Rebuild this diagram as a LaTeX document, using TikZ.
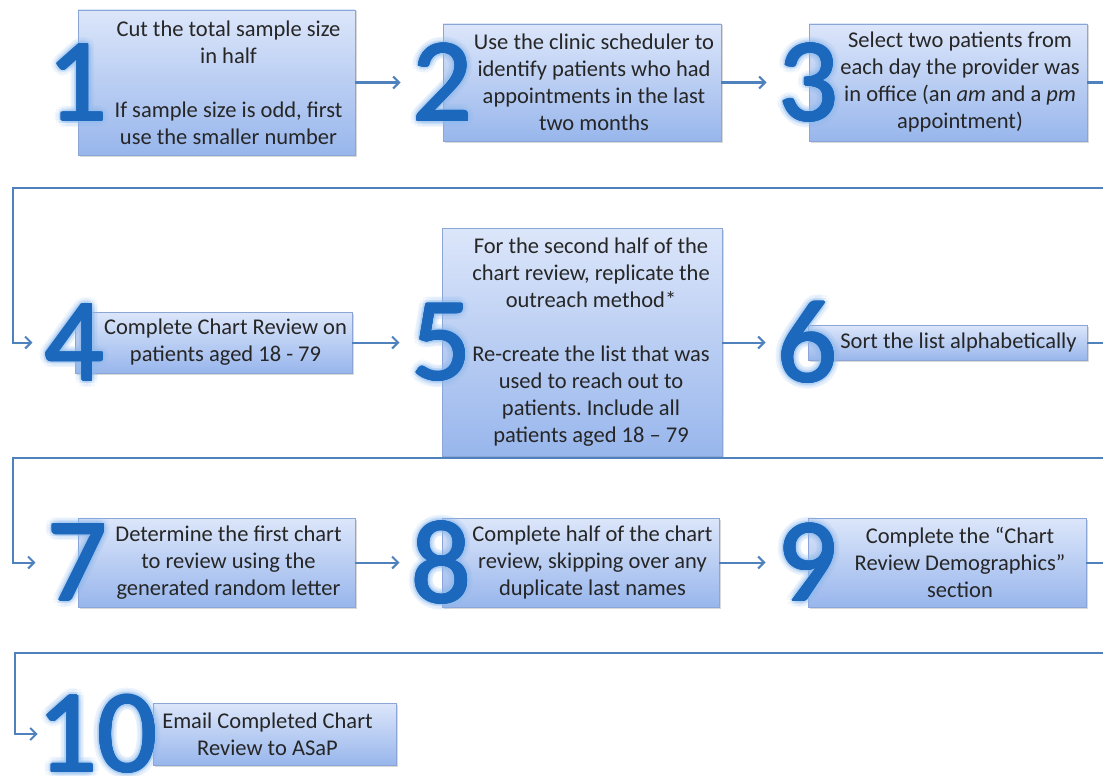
\documentclass[tikz,border=0pt]{standalone}
\usepackage{fontspec}
\setmainfont{Carlito}
\usetikzlibrary{arrows.meta,shadows}
\frenchspacing

\definecolor{flowblue}{HTML}{4F81BD}
\definecolor{numblue}{HTML}{1C68BC}
\definecolor{glowblue}{HTML}{8FBBEE}
\definecolor{boxtop}{HTML}{DCE6FA}
\definecolor{boxbottom}{HTML}{98B6EC}
\definecolor{boxline}{HTML}{8AA5D6}

% big step number with a soft halo
\newcommand{\glownum}[1]{%
  \foreach \r/\o/\c in {7/0.1/glowblue,3.5/0.18/glowblue,1/1/numblue}{%
    \foreach \a in {0,30,...,330}{%
      \pgfmathsetlengthmacro{\gx}{\r*cos(\a)}%
      \pgfmathsetlengthmacro{\gy}{\r*sin(\a)}%
      \rlap{\kern\gx\raise\gy\hbox{\pgfsetfillopacity{\o}\color{\c}#1}}%
    }%
  }%
  \pgfsetfillopacity{1}\hbox{\color{numblue}#1}}

\tikzset{
  stepbox/.style={draw=boxline, line width=0.8pt, top color=boxtop, bottom color=boxbottom,
    inner sep=0pt, drop shadow={shadow xshift=1.5pt, shadow yshift=-1.5pt, opacity=0.3}},
  steptext/.style={font=\fontsize{22.5}{27}\selectfont, text=black!85, align=center, inner sep=0pt},
  stepnum/.style={font=\fontsize{118}{118}\selectfont, inner sep=0pt},
  flow/.style={draw=flowblue, line width=2pt, -{Straight Barb[length=6pt,width=12pt]}}
}

\begin{document}
\begin{tikzpicture}[x=1pt, y=-1pt]
\useasboundingbox (0,0) rectangle (1103,776);

% boxes
\node[stepbox, minimum width=277pt, minimum height=145pt] (b1) at (216.5,82.5) {};
\node[stepbox, minimum width=278pt, minimum height=117pt] (b2) at (582,82.5) {};
\node[stepbox, minimum width=278pt, minimum height=117pt] (b3) at (948,82.5) {};
\node[stepbox, minimum width=277pt, minimum height=61pt] (b4) at (213.5,342.5) {};
\node[stepbox, minimum width=280pt, minimum height=228pt] (b5) at (582,342.5) {};
\node[stepbox, minimum width=279pt, minimum height=35pt] (b6) at (947.5,342.5) {};
\node[stepbox, minimum width=277pt, minimum height=89pt] (b7) at (216.5,562.5) {};
\node[stepbox, minimum width=277pt, minimum height=89pt] (b8) at (580.5,562.5) {};
\node[stepbox, minimum width=278pt, minimum height=89pt] (b9) at (947,562.5) {};
\node[stepbox, minimum width=243pt, minimum height=62pt] (b10) at (274.5,734) {};

% texts
\node[steptext] (t1) at ([xshift=12pt]b1.center) {Cut the total sample size\\in half\\[27pt]If sample size is odd, first\\use the smaller number};
\node[steptext] (t2) at ([xshift=12pt]b2.center) {Use the clinic scheduler to\\identify patients who had\\appointments in the last\\two months};
\node[steptext] (t3) at ([xshift=12pt]b3.center) {Select two patients from\\each day the provider was\\in office (an \textit{am} and a \textit{pm}\\appointment)};
\node[steptext] (t4) at ([xshift=12pt]b4.center) {Complete Chart Review on\\patients aged 18 - 79};
\node[steptext] (t5) at ([xshift=9pt]b5.center) {For the second half of the\\chart review, replicate the\\outreach method*\\[27pt]Re-create the list that was\\used to reach out to\\patients. Include all\\patients aged 18 – 79};
\node[steptext] (t6) at ([xshift=11pt]b6.center) {Sort the list alphabetically};
\node[steptext] (t7) at ([xshift=12pt]b7.center) {Determine the first chart\\to review using the\\generated random letter};
\node[steptext] (t8) at ([xshift=12pt]b8.center) {Complete half of the chart\\review, skipping over any\\duplicate last names};
\node[steptext] (t9) at ([xshift=13pt]b9.center) {Complete the “Chart\\Review Demographics”\\section};
\node[steptext] (t10) at ([xshift=-7pt]b10.center) {Email Completed Chart\\Review to ASaP};

% numbers
\node[stepnum] (n1) at (b1.west) {\glownum{1}};
\node[stepnum] (n2) at (b2.west) {\glownum{2}};
\node[stepnum] (n3) at (b3.west) {\glownum{3}};
\node[stepnum] (n4) at (b4.west) {\glownum{4}};
\node[stepnum] (n5) at (b5.west) {\glownum{5}};
\node[stepnum] (n6) at (b6.west) {\glownum{6}};
\node[stepnum] (n7) at (b7.west) {\glownum{7}};
\node[stepnum] (n8) at (b8.west) {\glownum{8}};
\node[stepnum] (n9) at (b9.west) {\glownum{9}};
\node[stepnum, anchor=east] (n10) at ([xshift=5pt]b10.west) {\glownum{10}};

% connectors
\draw[flow, shorten >=12pt] (b1.east) -- (n2.west);
\draw[flow, shorten >=12pt] (b2.east) -- (n3.west);
\draw[flow, shorten >=12pt] (b3.east) -- (1112,82.5) |- (13,188) |- (n4.west);
\draw[flow, shorten >=12pt] (b4.east) -- (n5.west);
\draw[flow, shorten >=12pt] (b5.east) -- (n6.west);
\draw[flow, shorten >=12pt] (b6.east) -- (1112,342.5) |- (13,458) |- (n7.west);
\draw[flow, shorten >=12pt] (b7.east) -- (n8.west);
\draw[flow, shorten >=12pt] (b8.east) -- (n9.west);
\draw[flow] (b9.east) -- (1112,562.5) |- (15,653) |- (n10.west);
\end{tikzpicture}
\end{document}
